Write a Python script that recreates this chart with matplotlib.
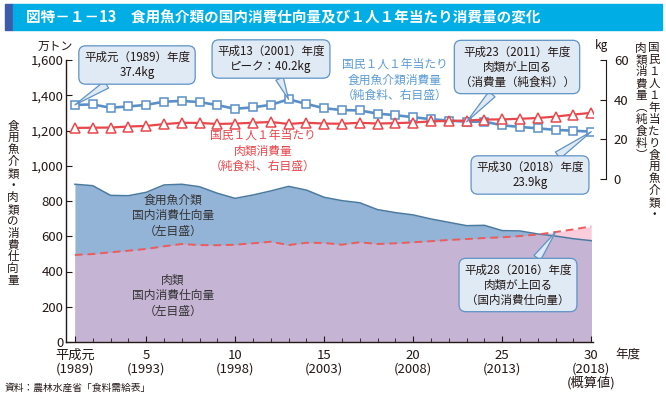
import numpy as np
import matplotlib
matplotlib.use('Agg')
import matplotlib.pyplot as plt
from matplotlib.patches import Rectangle

plt.rcParams['font.family'] = ['Noto Sans CJK JP', 'DejaVu Sans']

# data
years = list(range(1989, 2019))
fish_pc = [37.4, 37.6, 36.0, 36.6, 37.4, 39.0, 39.4, 38.8, 37.3, 35.4,
           36.2, 37.4, 40.2, 37.9, 35.7, 34.8, 34.6, 33.0, 32.2, 31.2,
           30.2, 29.5, 28.9, 29.0, 27.1, 26.3, 25.6, 24.8, 24.4, 23.9]
meat_pc = [25.8, 25.9, 26.0, 26.5, 26.8, 27.7, 28.4, 28.3, 27.8, 28.0,
           28.4, 28.8, 27.8, 28.4, 28.0, 27.9, 28.4, 28.0, 28.2, 28.5,
           29.1, 29.3, 29.5, 30.0, 30.1, 30.4, 30.8, 31.5, 32.5, 33.4]
fish_vol = [895, 887, 832, 830, 849, 891, 895, 881, 844, 815,
            834, 857, 883, 862, 821, 802, 790, 751, 734, 721,
            698, 679, 660, 662, 632, 630, 613, 601, 586, 575]
meat_vol = [494, 499, 509, 518, 528, 543, 556, 550, 549, 552,
            560, 569, 550, 563, 562, 552, 566, 556, 560, 566,
            572, 579, 584, 590, 594, 601, 610, 624, 639, 656]

tick_years = [1989, 1993, 1998, 2003, 2008, 2013, 2018]
tick_labels = ['平成元\n(1989)', '5\n(1993)', '10\n(1998)', '15\n(2003)',
               '20\n(2008)', '25\n(2013)', '30\n(2018)\n(概算値)']

W, H = 666, 400


def px(x, y):
    return x / W, 1 - y / H


def vtext(xc, y0, s, step, size=8.3):
    # vertical Japanese text, one glyph per row
    for i, ch in enumerate(s):
        fig.text(*px(xc, y0 + i * step), ch, fontsize=size, color=TXT,
                 ha='center', va='center')


BLUE = '#5a90c8'
RED = '#e8474c'
BOX_FC = '#dfeaf5'
BOX_EC = '#5f93c6'
TXT = '#231815'

fig = plt.figure(figsize=(6.66, 4.0), dpi=100)

# title bar
fig.patches.append(Rectangle(px(5, 30), 8 / W, 26 / H, transform=fig.transFigure,
                             color='#3d5ba9', zorder=0))
fig.patches.append(Rectangle(px(13, 30), 649 / W, 26 / H, transform=fig.transFigure,
                             color='#00aee6', zorder=0))
fig.text(*px(26, 17), '図特－１－13　食用魚介類の国内消費仕向量及び１人１年当たり消費量の変化',
         color='white', fontsize=10.5, fontweight='bold', va='center', ha='left')

ax = fig.add_axes([66 / W, 58 / H, 527 / W, 282 / H])
x = np.array(years)
fv = np.array(fish_vol)
mv = np.array(meat_vol)

ax.fill_between(x, 0, fv, color='#94b4d7', lw=0)
ax.fill_between(x, 0, np.minimum(fv, mv), color='#c5b4d4', lw=0)
ax.fill_between(x, fv, mv, where=mv > fv, interpolate=True, color='#f9cddc', lw=0)
ax.plot(x, fv, color='#4a7aa0', lw=1.1)
ax.plot(x, mv, color='#ef5a5a', lw=1.4, ls=(0, (4, 2.5)))

ax.set_xlim(1988.5, 2018.1)
ax.set_ylim(0, 1600)
ax.set_yticks(range(0, 1601, 200))
ax.set_yticklabels([f'{v:,}' for v in range(0, 1601, 200)])
ax.set_xticks(tick_years)
ax.set_xticklabels(tick_labels, linespacing=1.05)
ax.set_xticks(years, minor=True)
ax.tick_params(axis='both', which='both', direction='in', colors=TXT, labelsize=9.5)
ax.tick_params(axis='x', which='major', length=4, pad=5)
ax.tick_params(axis='x', which='minor', length=3)
ax.tick_params(axis='y', length=4, pad=2)
for s in ['top', 'right']:
    ax.spines[s].set_visible(False)
for s in ['left', 'bottom']:
    ax.spines[s].set_color(TXT)
    ax.spines[s].set_linewidth(1.0)

ax2 = ax.twinx()
ax2.set_ylim(-82, 60)
ax2.plot(x, fish_pc, color=BLUE, lw=1.9, marker='s', ms=6, mfc='white',
         mec=BLUE, mew=1.1, zorder=3)
ax2.plot(x, meat_pc, color=RED, lw=1.6, marker='^', ms=6.5, mfc='white',
         mec=RED, mew=1.1, zorder=4)
ax2.set_yticks([0, 20, 40, 60])
ax2.spines['right'].set_bounds(0, 60)
ax2.spines['right'].set_position(('outward', 9))
ax2.spines['right'].set_color(TXT)
for s in ['top', 'left', 'bottom']:
    ax2.spines[s].set_visible(False)
ax2.tick_params(axis='y', direction='in', length=4, colors=TXT, labelsize=9.5, pad=6)

# unit labels
fig.text(*px(55, 46), '万トン', fontsize=8.5, color=TXT, ha='center', va='center')
fig.text(*px(601, 46), 'kg', fontsize=8.5, color=TXT, ha='center', va='center')
fig.text(*px(615, 354), '年度', fontsize=9, color=TXT, ha='left', va='center')
fig.text(*px(5, 388), '資料：農林水産省「食料需給表」', fontsize=7, color=TXT,
         ha='left', va='center')

# vertical axis titles
vtext(13, 126, '食用魚介類・肉類の消費仕向量', 11.9)
vtext(654, 48, '国民１人１年当たり食用魚介類・', 11.9)
vtext(641, 48, '肉類消費量︵純食料︶', 11.9)

# series labels
fig.text(*px(395, 80), '国民１人１年当たり\n食用魚介類消費量\n（純食料、右目盛）',
         color='#5b9bd5', fontsize=8.5, ha='center', va='center', linespacing=1.25)
fig.text(*px(263, 151), '国民１人１年当たり\n肉類消費量\n（純食料、右目盛）',
         color=RED, fontsize=8.5, ha='center', va='center', linespacing=1.25)
fig.text(*px(173, 216), '食用魚介類\n国内消費仕向量\n（左目盛）',
         color='#333333', fontsize=8.5, ha='center', va='center', linespacing=1.25)
fig.text(*px(173, 296), '肉類\n国内消費仕向量\n（左目盛）',
         color='#333333', fontsize=8.5, ha='center', va='center', linespacing=1.25)

# callouts
bbox = dict(boxstyle='round,pad=0.45,rounding_size=0.6', fc=BOX_FC, ec=BOX_EC, lw=0.9)
arrow = dict(arrowstyle='wedge,tail_width=0.7', fc=BOX_FC, ec=BOX_EC, lw=0.9,
             shrinkA=0, shrinkB=0)


def callout(axis, text, xy, pos):
    axis.annotate(text, xy=xy, xytext=px(*pos), textcoords='figure fraction',
                  fontsize=8.3, color=TXT, ha='center', va='center',
                  linespacing=1.2, bbox=bbox, arrowprops=arrow,
                  annotation_clip=False, zorder=10)


callout(ax2, '平成元（1989）年度\n37.4kg', (years[0], fish_pc[0]), (137, 65))
callout(ax2, '平成13（2001）年度\nピーク：40.2kg', (years[12], fish_pc[12]), (271, 59))
callout(ax2, '平成23（2011）年度\n肉類が上回る\n（消費量（純食料））',
        (years[22], fish_pc[22]), (517, 67))
callout(ax2, '平成30（2018）年度\n23.9kg', (years[-1], fish_pc[-1]), (530, 175))
callout(ax, '平成28（2016）年度\n肉類が上回る\n（国内消費仕向量）',
        (years[27], meat_vol[27]), (518, 285))

fig.savefig('out.png', dpi=100)
